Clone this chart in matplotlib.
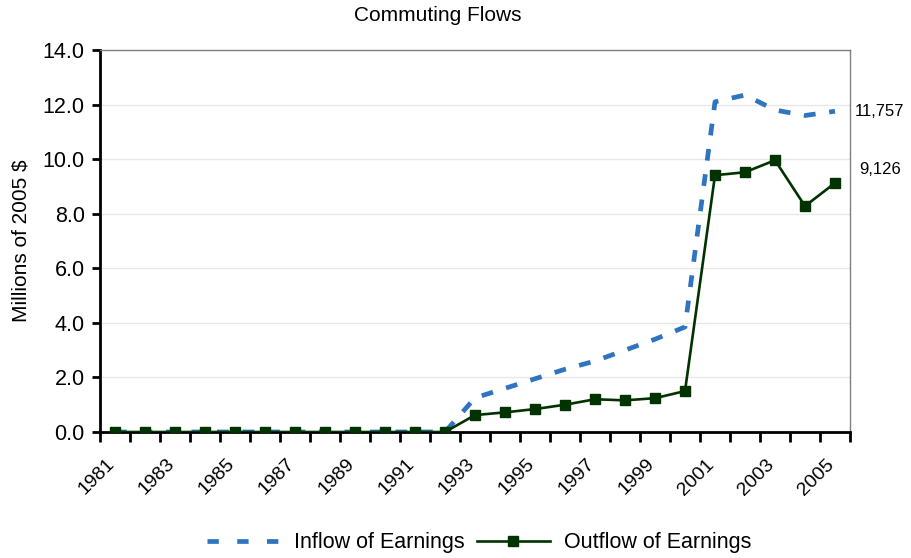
import numpy as np
import matplotlib.pyplot as plt
from matplotlib.lines import Line2D
from matplotlib.transforms import ScaledTranslation

plt.rcParams['font.family'] = ['Liberation Sans', 'DejaVu Sans']

years = list(range(1981, 2006))
inflow = [0, 0, 0, 0, 0, 0, 0, 0, 0, 0, 0, 0,
          1.25, 1.6, 1.95, 2.3, 2.6, 3.0, 3.4, 3.85,
          12.1, 12.35, 11.8, 11.6, 11.757]
outflow = [0, 0, 0, 0, 0, 0, 0, 0, 0, 0, 0, 0,
           0.62, 0.72, 0.84, 1.0, 1.2, 1.16, 1.24, 1.5,
           9.41, 9.52, 9.96, 8.28, 9.126]
end_labels = ['11,757', '9,126']

blue = '#2f74c0'
green = '#003300'

fig = plt.figure(figsize=(9.11, 5.58), dpi=100)
ax = fig.add_axes([100 / 911, 1 - 432 / 558, 750 / 911, 382 / 558])

x = np.arange(len(years))
ax.plot(x, inflow, color=blue, lw=3.4, linestyle=(0, (2.5, 2.9)), zorder=3)
ax.plot(x, outflow, color=green, lw=1.9, marker='s', markersize=7.5, zorder=4)

ax.set_xlim(-0.5, len(years) - 0.5)
ax.set_ylim(0, 14)
ax.set_yticks(np.arange(0, 14.1, 2))
ax.set_yticklabels(['%.1f' % v for v in np.arange(0, 14.1, 2)], fontsize=15.5)
ax.grid(axis='y', color='#e8e8e8', lw=1)
ax.set_axisbelow(True)

ax.set_xticks(x)
ax.set_xticklabels([str(y) if (y - 1981) % 2 == 0 else '' for y in years],
                   rotation=45, ha='right', va='top', rotation_mode='anchor',
                   fontsize=14)
ax.tick_params(axis='x', which='major', length=0, pad=17)
shift = ScaledTranslation(-9 / 100, 0, fig.dpi_scale_trans)
for lab in ax.get_xticklabels():
    lab.set_transform(lab.get_transform() + shift)
ax.set_xticks(np.arange(-0.5, len(years)), minor=True)
ax.tick_params(axis='x', which='minor', length=7, width=2, direction='out')
ax.tick_params(axis='y', length=6, width=2, direction='out', pad=5)

for s in ['left', 'bottom']:
    ax.spines[s].set_linewidth(2)
    ax.spines[s].set_color('black')
for s in ['top', 'right']:
    ax.spines[s].set_linewidth(1)
    ax.spines[s].set_color('#808080')

ax.set_ylabel('Millions of 2005 $', fontsize=15, labelpad=9)

ax.annotate(end_labels[0], xy=(x[-1], inflow[-1]), xytext=(45, 0),
            textcoords='offset pixels', ha='center', va='center',
            fontsize=12, annotation_clip=False)
ax.annotate(end_labels[1], xy=(x[-1], outflow[-1]), xytext=(45, 13),
            textcoords='offset pixels', ha='center', va='center',
            fontsize=12, annotation_clip=False)

fig.text(0.48, 0.973, 'Commuting Flows', ha='center', va='center', fontsize=15)

handles = [Line2D([], [], color=blue, lw=3.4, linestyle=(0, (2.4, 3.9))),
           Line2D([], [], color=green, lw=1.9, marker='s', markersize=6.5)]
fig.legend(handles, ['Inflow of Earnings', 'Outflow of Earnings'],
           loc='center', bbox_to_anchor=(0.526, 0.027), ncol=2, frameon=False,
           fontsize=15.5, handlelength=3.4, columnspacing=0.55,
           handletextpad=0.65)

fig.savefig('out.png', dpi=100)
